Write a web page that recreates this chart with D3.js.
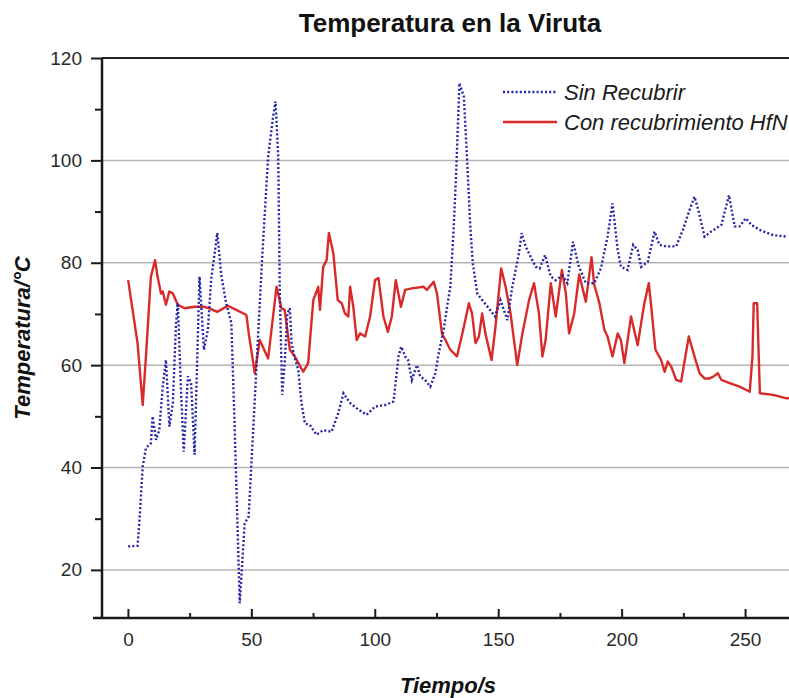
<!DOCTYPE html>
<head>
    <meta charset="utf-8">
    <title>Temperatura en la Viruta</title>
    <script src="https://cdn.jsdelivr.net/npm/d3@7"></script>
</head>

<style>
    body { margin: 0; background: white; }
    text { font-family: "Liberation Sans", Arial, sans-serif; }
</style>

<body>
<svg id="chart" width="789" height="698"></svg>
</body>

<script>

    // Sin Recubrir (blue, dotted)
    var blueTime = [0.1, 3.9, 4.6, 6.0, 7.3, 9.3, 10.0, 11.4, 12.7, 14.1, 15.4, 16.8, 18.2, 19.5, 20.2, 21.5, 22.6, 24.3, 25.6, 27.0,
        29.0, 30.8, 32.4, 33.7, 36.2, 37.8, 39.8, 41.9, 43.2, 45.3, 47.3, 48.9, 51.6, 53.4, 54.5, 56.8, 58.8, 59.8, 60.9, 61.5,
        62.5, 63.5, 64.6, 65.6, 66.3, 67.4, 69.0, 70.3, 71.7, 73.7, 76.4, 79.1, 82.5, 85.2, 87.3, 90.0, 93.4, 96.7, 100.1, 104.2,
        107.6, 109.6, 110.7, 112.3, 113.5, 115.0, 117.1, 118.4, 120.4, 122.5, 124.5, 125.9, 127.9, 129.3, 130.6, 132.0, 132.9, 134.3, 136.1, 137.4,
        138.7, 139.7, 141.5, 143.5, 146.2, 148.7, 150.9, 153.7, 155.7, 158.4, 159.5, 161.1, 163.1, 165.2, 166.8, 169.0, 171.3, 173.3, 176.0, 178.0,
        180.3, 182.5, 185.5, 188.9, 191.6, 194.3, 196.3, 198.4, 199.7, 202.4, 204.7, 206.5, 207.9, 210.6, 213.3, 215.3, 218.0, 222.1, 224.8, 227.5,
        229.5, 230.9, 233.6, 236.3, 240.4, 243.5, 245.8, 247.8, 250.3, 252.6, 256.0, 261.4, 266.8]
    var blueTemp = [24.6, 24.7, 29.1, 40.2, 43.8, 44.7, 50.0, 45.4, 47.3, 55.8, 61.0, 48.0, 52.6, 68.2, 72.1, 55.2, 43.1, 57.8, 56.5, 42.5,
        77.3, 63.0, 66.9, 76.6, 85.8, 77.6, 72.1, 68.2, 48.6, 13.5, 29.1, 30.4, 55.2, 72.0, 82.0, 100.7, 108.5, 111.5, 100.7, 74.7,
        54.2, 60.4, 70.1, 71.1, 64.3, 61.7, 59.1, 52.6, 48.6, 48.3, 46.4, 47.3, 47.0, 50.6, 54.5, 52.6, 51.3, 50.3, 51.9, 52.2,
        52.9, 61.7, 63.6, 61.7, 61.0, 57.1, 60.0, 57.8, 57.1, 55.8, 58.4, 62.3, 66.9, 71.4, 75.3, 87.1, 96.8, 115.1, 112.4, 100.1,
        87.1, 79.9, 74.0, 72.7, 71.1, 69.5, 72.7, 68.8, 75.3, 81.9, 85.8, 83.2, 81.2, 79.2, 78.9, 81.5, 77.3, 76.6, 77.5, 76.0,
        84.1, 79.5, 76.0, 76.0, 78.9, 85.1, 91.6, 82.5, 79.2, 78.6, 83.5, 82.5, 79.2, 80.2, 86.1, 83.5, 83.2, 83.2, 86.4, 90.3,
        92.9, 90.6, 85.1, 86.1, 87.4, 93.2, 87.1, 87.1, 88.7, 87.4, 86.4, 85.4, 85.1]

    // Con recubrimiento HfN (red, solid)
    var redTime = [0.1, 1.9, 3.9, 6.0, 7.3, 9.3, 10.0, 11.0, 12.0, 13.4, 14.1, 15.4, 16.8, 18.2, 20.2, 22.9, 27.0, 31.0, 33.0, 36.2,
        40.5, 43.9, 48.0, 49.0, 51.4, 53.4, 56.8, 60.2, 62.2, 63.5, 65.6, 67.6, 71.0, 73.0, 75.1, 77.1, 77.8, 79.1, 80.5, 81.4,
        83.2, 85.0, 86.6, 87.9, 89.3, 90.0, 91.3, 92.7, 94.0, 96.1, 98.1, 100.1, 101.5, 103.5, 105.3, 106.9, 108.5, 110.6, 112.3, 115.0,
        119.8, 121.1, 123.9, 125.2, 127.2, 128.6, 130.6, 133.3, 136.1, 138.1, 139.4, 140.8, 142.2, 143.5, 144.8, 147.3, 148.9, 151.2, 153.0, 155.0,
        157.7, 159.8, 162.5, 164.5, 166.5, 167.9, 169.2, 171.3, 173.3, 175.8, 177.4, 178.7, 180.8, 182.8, 185.5, 187.8, 188.9, 191.0, 193.0, 194.3,
        196.3, 198.4, 199.7, 201.1, 203.8, 206.5, 207.9, 209.2, 211.0, 211.9, 213.7, 216.0, 217.4, 218.7, 220.1, 222.1, 224.1, 227.2, 229.5, 231.6,
        233.6, 235.6, 237.0, 239.0, 240.4, 243.8, 247.8, 251.9, 253.0, 253.5, 254.9, 256.0, 261.4, 266.8, 269.1]
    var redTemp = [76.6, 70.8, 64.3, 52.2, 61.7, 77.3, 78.6, 80.5, 77.3, 74.0, 74.4, 71.8, 74.4, 74.0, 71.8, 71.1, 71.4, 71.4, 71.1, 70.4,
        71.6, 70.8, 69.8, 66.0, 58.4, 64.9, 61.3, 75.3, 71.1, 70.8, 63.0, 61.7, 58.7, 60.4, 72.7, 75.3, 70.8, 79.2, 80.5, 85.8,
        81.9, 72.7, 72.1, 70.1, 69.5, 75.3, 71.4, 64.9, 66.2, 65.6, 69.5, 76.6, 77.0, 69.5, 66.5, 69.5, 76.6, 71.4, 74.7, 75.0,
        75.3, 74.7, 76.3, 74.0, 66.2, 64.9, 63.0, 61.7, 67.5, 72.1, 70.1, 64.3, 65.6, 70.1, 66.2, 61.0, 67.5, 78.9, 75.3, 70.1,
        60.0, 66.2, 72.7, 76.0, 70.1, 61.7, 64.9, 76.0, 69.5, 78.6, 74.0, 66.2, 70.1, 77.7, 72.4, 81.1, 75.7, 72.1, 66.9, 65.6,
        61.7, 66.2, 64.9, 60.4, 69.5, 63.9, 68.2, 72.1, 76.0, 71.8, 63.0, 61.0, 58.7, 60.7, 59.7, 57.1, 56.8, 65.6, 61.7, 58.4,
        57.4, 57.4, 57.7, 58.4, 57.1, 56.5, 55.8, 54.8, 61.7, 72.1, 72.1, 54.5, 54.2, 53.5, 53.7]

    var xTicks = [0, 50, 100, 150, 200, 250]
    var xMinorTicks = [25, 75, 125, 175, 225]
    var yTicks = [20, 40, 60, 80, 100, 120]
    var yMinorTicks = [30, 50, 70, 90, 110]
    var seriesNames = ["Sin Recubrir", "Con recubrimiento HfN"]

    var blueColour = "#2424a8"
    var redColour = "#d92a2a"

    var svg = d3.select("#chart")

    var xScale = d3.scaleLinear().domain([-10.5, 267.8]).range([102, 789])
    var yScale = d3.scaleLinear().domain([10.6, 120]).range([618, 58])

    svg.append("defs").append("clipPath").attr("id", "plotClip")
        .append("rect")
        .attr("x", 102).attr("y", 50)
        .attr("width", 700).attr("height", 568)

    // grid
    svg.append("g")
        .selectAll("line")
        .data(yTicks.filter(d => d < 120))
        .enter()
        .append("line")
        .attr("x1", 102).attr("x2", 789)
        .attr("y1", d => yScale(d)).attr("y2", d => yScale(d))
        .style("stroke", "#b4b4b4")
        .style("stroke-width", 1.5)

    // top border
    svg.append("line")
        .attr("x1", 102).attr("x2", 789)
        .attr("y1", yScale(120)).attr("y2", yScale(120))
        .style("stroke", "#222")
        .style("stroke-width", 2)

    // y axis
    var yAxis = svg.append("g")
        .attr("transform", "translate(102,0)")
        .call(d3.axisLeft(yScale).tickValues(yTicks).tickSizeInner(11).tickSizeOuter(0).tickPadding(9))
    svg.append("g")
        .attr("transform", "translate(102,0)")
        .call(d3.axisLeft(yScale).tickValues(yMinorTicks).tickSizeInner(7).tickSizeOuter(0).tickFormat(""))

    // x axis
    var xAxis = svg.append("g")
        .attr("transform", "translate(0,618)")
        .call(d3.axisBottom(xScale).tickValues(xTicks).tickSizeInner(-9).tickSizeOuter(0).tickPadding(15))
    svg.append("g")
        .attr("transform", "translate(0,618)")
        .call(d3.axisBottom(xScale).tickValues(xMinorTicks).tickSizeInner(-5).tickSizeOuter(0).tickFormat(""))

    svg.selectAll(".domain").remove()
    svg.selectAll(".tick line").style("stroke", "#1a1a1a").style("stroke-width", 2)
    svg.selectAll(".tick text")
        .style("font-size", "19px")
        .style("fill", "#2a2a2a")

    svg.append("line")
        .attr("x1", 102).attr("x2", 102)
        .attr("y1", yScale(120)).attr("y2", 619)
        .style("stroke", "#1a1a1a")
        .style("stroke-width", 2.5)
    svg.append("line")
        .attr("x1", 93).attr("x2", 789)
        .attr("y1", 618).attr("y2", 618)
        .style("stroke", "#1a1a1a")
        .style("stroke-width", 2.5)

    // lines
    var lineGen = d3.line()
        .x(d => xScale(d[0]))
        .y(d => yScale(d[1]))

    var bluePts = blueTime.map((t, i) => [t, blueTemp[i]])
    var redPts = redTime.map((t, i) => [t, redTemp[i]])

    var plot = svg.append("g").attr("clip-path", "url(#plotClip)")

    plot.append("path")
        .datum(redPts)
        .attr("d", lineGen)
        .style("fill", "none")
        .style("stroke", redColour)
        .style("stroke-width", 2.4)
        .style("stroke-linejoin", "round")

    plot.append("path")
        .datum(bluePts)
        .attr("d", lineGen)
        .style("fill", "none")
        .style("stroke", blueColour)
        .style("stroke-width", 2.4)
        .style("stroke-dasharray", "2,2.2")

    // legend
    var legend = svg.append("g")
    legend.append("line")
        .attr("x1", 503).attr("x2", 557).attr("y1", 92).attr("y2", 92)
        .style("stroke", blueColour).style("stroke-width", 2.4).style("stroke-dasharray", "2,2.2")
    legend.append("line")
        .attr("x1", 503).attr("x2", 557).attr("y1", 122).attr("y2", 122)
        .style("stroke", redColour).style("stroke-width", 2.4)
    legend.selectAll("text")
        .data(seriesNames)
        .enter()
        .append("text")
        .attr("x", 564)
        .attr("y", (d, i) => 92 + i * 30)
        .attr("dy", "0.35em")
        .style("font-size", "22px")
        .style("font-style", "italic")
        .style("fill", "#1a1a1a")
        .text(d => d)

    // titles
    svg.append("text")
        .attr("x", 450).attr("y", 32)
        .attr("text-anchor", "middle")
        .style("font", "bold 26px 'Liberation Sans', Arial, sans-serif")
        .style("fill", "#111")
        .text("Temperatura en la Viruta")

    svg.append("text")
        .attr("x", 448).attr("y", 693)
        .attr("text-anchor", "middle")
        .style("font", "italic bold 22px 'Liberation Sans', Arial, sans-serif")
        .style("fill", "#111")
        .text("Tiempo/s")

    svg.append("text")
        .attr("transform", "translate(30,338) rotate(-90)")
        .attr("text-anchor", "middle")
        .style("font", "italic bold 22px 'Liberation Sans', Arial, sans-serif")
        .style("fill", "#111")
        .text("Temperatura/°C")

</script>
</html>
